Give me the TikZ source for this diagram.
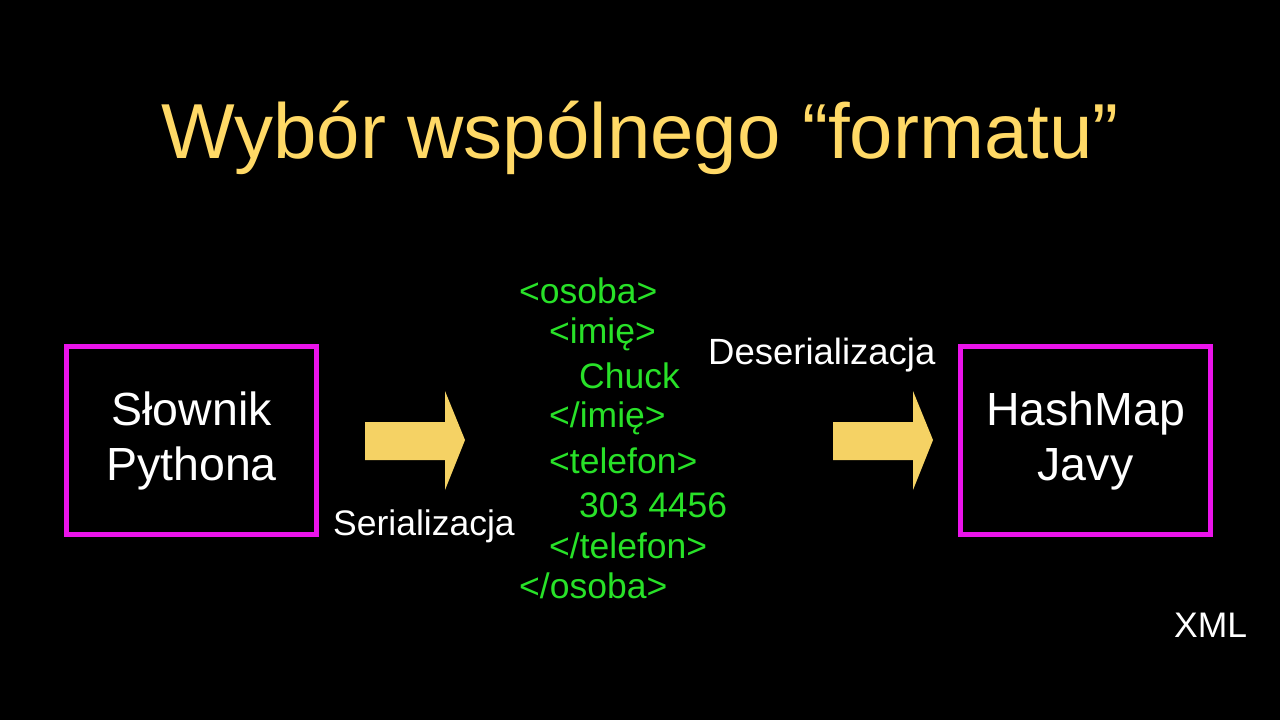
\documentclass[tikz,border=0pt]{standalone}
\usepackage{fontspec}
\setmainfont{Liberation Sans}
\definecolor{titlecol}{RGB}{255,217,102}
\definecolor{boxcol}{RGB}{235,20,235}
\definecolor{xmlcol}{RGB}{40,225,40}
\definecolor{arrowcol}{RGB}{245,210,100}
\begin{document}
\begin{tikzpicture}[x=1pt,y=-1pt,
  titletext/.style={text=titlecol,inner sep=0pt,font=\fontsize{78}{90}\selectfont},
  framebox/.style={draw=boxcol,line width=5pt,minimum width=250pt,minimum height=188pt,
    text=white,align=center,inner sep=0pt,font=\fontsize{46.5}{55}\selectfont},
  xmlline/.style={text=xmlcol,anchor=base west,inner sep=0pt,font=\fontsize{35.5}{42}\selectfont},
  plainlabel/.style={text=white,anchor=base west,inner sep=0pt,font=\fontsize{35.5}{42}\selectfont},
  blockarrow/.style={fill=arrowcol}]
\fill[black] (0,0) rectangle (1280,720);
\useasboundingbox (0,0) rectangle (1280,720);

\node[titletext,anchor=base] (title) at (640,158) {Wybór wspólnego “formatu”};

\node[framebox] (py) at (191.5,440.5) {Słownik\\Pythona};
\node[framebox] (java) at (1085.5,440.5) {HashMap\\Javy};

\fill[blockarrow] (365,422) -- (445,422) -- (445,391) -- (465,440) -- (445,490) -- (445,460) -- (365,460) -- cycle;
\fill[blockarrow] (833,422) -- (913,422) -- (913,391) -- (933,440) -- (913,490) -- (913,460) -- (833,460) -- cycle;

\node[xmlline] (x1) at (519,303) {<osoba>};
\node[xmlline] (x2) at (549,343) {<imię>};
\node[xmlline] (x3) at (579,388) {Chuck};
\node[xmlline] (x4) at (549,427) {</imię>};
\node[xmlline] (x5) at (549,473) {<telefon>};
\node[xmlline] (x6) at (579,517) {303 4456};
\node[xmlline] (x7) at (549,558) {</telefon>};
\node[xmlline] (x8) at (519,598) {</osoba>};

\node[plainlabel] (ser) at (333,535) {Serializacja};
\node[plainlabel,font=\fontsize{36.5}{42}\selectfont] (deser) at (708,364) {Deserializacja};
\node[plainlabel] (xml) at (1174,637) {XML};
\end{tikzpicture}
\end{document}
